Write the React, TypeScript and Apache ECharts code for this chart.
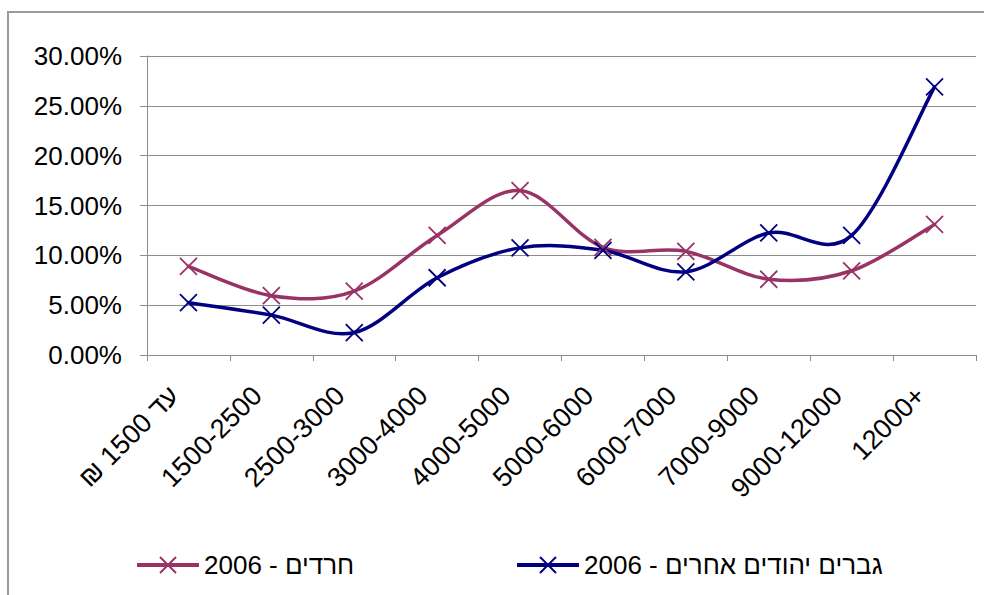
import { useEffect, useRef } from 'react';
import * as echarts from 'echarts';

const categories = ['עד 1500 ₪', '1500-2500', '2500-3000', '3000-4000', '4000-5000', '5000-6000', '6000-7000', '7000-9000', '9000-12000', '12000+'];
const seriesNames = ['חרדים - 2006', 'גברים יהודים אחרים - 2006'];
const haredim = [8.9, 5.95, 6.4, 12.0, 16.5, 10.8, 10.4, 7.6, 8.45, 13.1];
const otherJewishMen = [5.25, 4.0, 2.25, 7.75, 10.75, 10.5, 8.35, 12.25, 12.0, 26.9];

const PURPLE = '#993366';
const NAVY = '#000080';
const FONT = '"Liberation Sans", Arial, "DejaVu Sans", sans-serif';
const X_MARK = 'path://M0,0L10,10M10,0L0,10';

export default function App() {
  const ref = useRef<HTMLDivElement>(null);
  useEffect(() => {
    if (!ref.current) return;
    const chart = echarts.init(ref.current, null, { renderer: 'svg' });

    // Excel-style smoothed line (Catmull-Rom style Bezier, tension 1/6), drawn through the axes' scales
    const mkCurve = (id: string, values: number[], color: string) => ({
      type: 'custom',
      name: id,
      data: values.map((v, i) => [i, v]),
      encode: { x: 0, y: 1 },
      clip: false,
      silent: true,
      z: 2,
      renderItem: (params: any, api: any) => {
        const n = values.length;
        const i = params.dataIndex;
        if (i >= n - 1) return null;
        const P = (k: number) => {
          const c = Math.max(0, Math.min(n - 1, k));
          return api.coord([c, values[c]]);
        };
        const p0 = P(i - 1);
        const p1 = P(i);
        const p2 = P(i + 1);
        const p3 = P(i + 2);
        const t = 1 / 6;
        return {
          type: 'bezierCurve',
          shape: {
            x1: p1[0],
            y1: p1[1],
            x2: p2[0],
            y2: p2[1],
            cpx1: p1[0] + (p2[0] - p0[0]) * t,
            cpy1: p1[1] + (p2[1] - p0[1]) * t,
            cpx2: p2[0] - (p3[0] - p1[0]) * t,
            cpy2: p2[1] - (p3[1] - p1[1]) * t,
          },
          style: { stroke: color, lineWidth: 3.5, fill: null, lineCap: 'round' },
        };
      },
    });

    const mkMarkers = (name: string, data: number[], color: string) => ({
      name,
      type: 'line',
      data,
      symbol: X_MARK,
      symbolSize: 17,
      showAllSymbol: true,
      z: 3,
      lineStyle: { color, width: 0, opacity: 0 },
      itemStyle: { color, borderColor: color, borderWidth: 1.8 },
      emphasis: { disabled: true },
    });

    const legendBase = {
      top: 552,
      padding: 0,
      itemWidth: 62,
      itemHeight: 20,
      lineStyle: { width: 4, opacity: 1 },
      itemStyle: { borderWidth: 2, opacity: 1 },
      textStyle: { fontSize: 26, color: '#000', fontFamily: FONT },
    };

    chart.setOption({
      animation: false,
      backgroundColor: '#ffffff',
      textStyle: { fontFamily: FONT },
      graphic: [
        {
          type: 'rect',
          shape: { x: 8, y: 12, width: 1000, height: 1000 },
          style: { fill: 'none', stroke: '#9a9a9a', lineWidth: 2 },
          z: -1,
          silent: true,
        },
      ],
      grid: { left: 147, right: 8, top: 56, bottom: 240, containLabel: false },
      legend: [
        { ...legendBase, data: [seriesNames[0]], left: 135 },
        { ...legendBase, data: [seriesNames[1]], left: 515 },
      ],
      xAxis: {
        type: 'category',
        data: categories,
        boundaryGap: true,
        axisLine: { lineStyle: { color: '#8c8c8c', width: 1 } },
        axisTick: { show: true, length: 6, interval: 0, lineStyle: { color: '#8c8c8c' } },
        axisLabel: {
          interval: 0,
          rotate: 45,
          margin: 22,
          padding: [0, 20, 0, 0],
          fontSize: 27,
          color: '#000',
          fontFamily: FONT,
          formatter: (v: string) => (/[\u0590-\u05FF]/.test(v) ? v + '\u200F' : v),
        },
        splitLine: { show: false },
      },
      yAxis: {
        type: 'value',
        min: 0,
        max: 30,
        interval: 5,
        axisLine: { show: true, lineStyle: { color: '#8c8c8c', width: 1 } },
        axisTick: { show: true, length: 7, lineStyle: { color: '#8c8c8c' } },
        axisLabel: {
          margin: 25,
          fontSize: 26,
          color: '#000',
          fontFamily: FONT,
          formatter: (v: number) => v.toFixed(2) + '%',
        },
        splitLine: { show: true, lineStyle: { color: '#8c8c8c', width: 1 } },
      },
      series: [
        mkCurve('curve-haredim', haredim, PURPLE),
        mkCurve('curve-others', otherJewishMen, NAVY),
        mkMarkers(seriesNames[0], haredim, PURPLE),
        mkMarkers(seriesNames[1], otherJewishMen, NAVY),
      ],
    });
    return () => chart.dispose();
  }, []);
  return (
    <div
      ref={ref}
      style={{ position: 'fixed', left: 0, top: 0, width: 984, height: 595, background: '#fff' }}
    />
  );
}
